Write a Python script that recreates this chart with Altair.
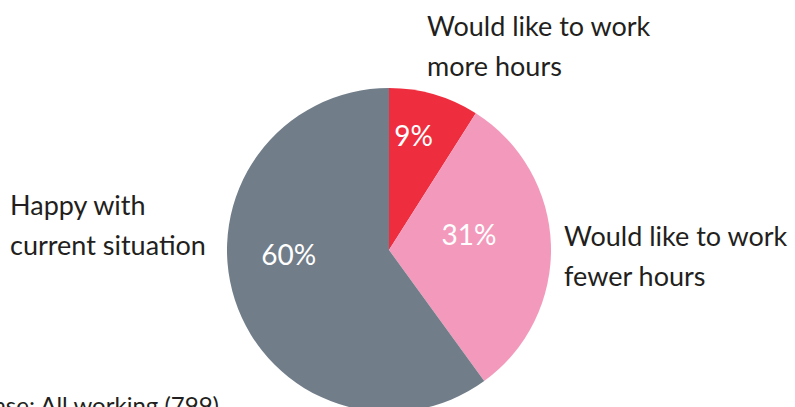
import altair as alt
import pandas as pd

categories = ["Would like to work more hours", "Would like to work fewer hours", "Happy with current situation"]
values = [9, 31, 60]
pct_labels = ["9%", "31%", "60%"]
colors = ["#EE2E3F", "#F39ABC", "#717D89"]
outer_labels = [["Would like to work", "more hours"], ["Would like to work", "fewer hours"], ["Happy with", "current situation"]]
base_note = "Base: All working (799)"

df = pd.DataFrame({"cat": categories, "value": values, "label": pct_labels, "order": [0, 1, 2]})

FONT = "Lato"
CX, CY, R = 389, 250, 162

base = alt.Chart(df).encode(
    theta=alt.Theta("value:Q", stack=True),
    order=alt.Order("order:Q"),
    color=alt.Color("cat:N", scale=alt.Scale(domain=categories, range=colors), legend=None),
)

pie = base.mark_arc(outerRadius=R, stroke=None).encode(x=alt.value(CX), y=alt.value(CY))

def pct_layer(i, radius, dx, dy):
    return base.mark_text(
        font=FONT, fontSize=28, radius=radius, dx=dx, dy=dy, align="center", baseline="middle"
    ).encode(
        text=alt.condition(alt.datum.order == i, "label:N", alt.value("")),
        x=alt.value(CX), y=alt.value(CY), color=alt.value("white"),
    )

p1 = pct_layer(0, 117, -8, 0)
p2 = pct_layer(1, 80, 0, -10)
p3 = pct_layer(2, 96, -9, -23)

def outer(i, x, y):
    return alt.Chart(pd.DataFrame({"t": [outer_labels[i]]})).mark_text(
        font=FONT, fontSize=27, color="#231F20", align="left", baseline="middle", lineHeight=40
    ).encode(text="t", x=alt.value(x), y=alt.value(y))

o1 = outer(0, 427, 28)
o2 = outer(1, 564, 238)
o3 = outer(2, 10, 207)

note = alt.Chart(pd.DataFrame({"t": [base_note]})).mark_text(
    font=FONT, fontSize=24, color="#231F20", align="right", baseline="alphabetic"
).encode(text="t", x=alt.value(219), y=alt.value(414))

chart = alt.layer(pie, p1, p2, p3, o1, o2, o3, note).properties(
    width=795, height=407, padding=0, autosize=alt.AutoSizeParams(type="none")
).configure_view(stroke=None)

chart.save("out.html", embed_options={"renderer": "svg", "actions": False})
